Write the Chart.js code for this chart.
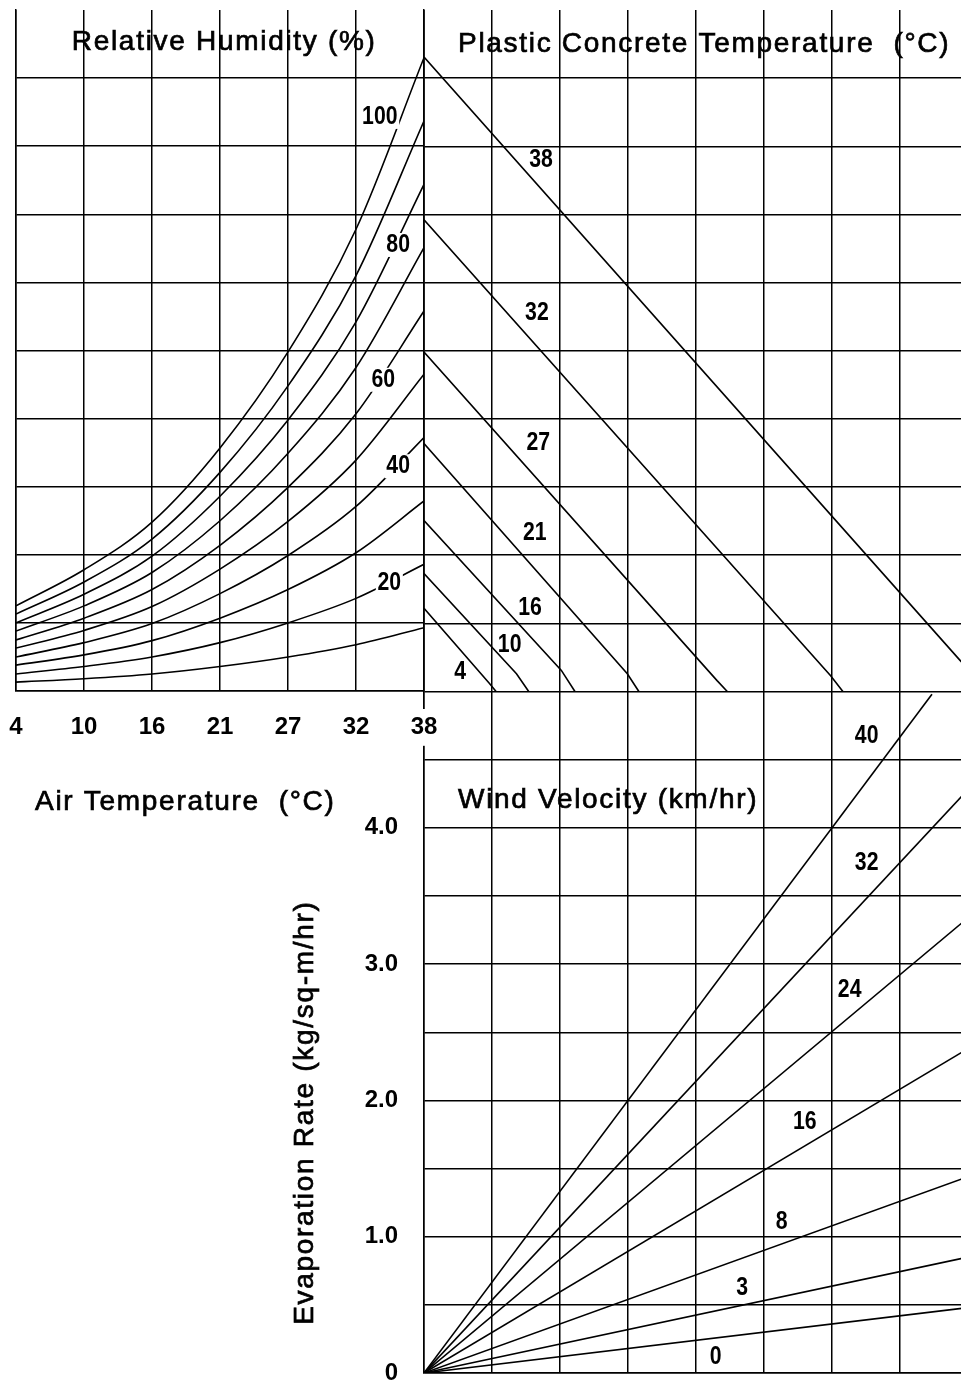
<!DOCTYPE html>
<html>
<head>
<meta charset="utf-8">
<title>Evaporation rate nomograph</title>
<script src="https://cdn.jsdelivr.net/npm/chart.js@4/dist/chart.umd.min.js"></script>
<style>
  html, body { margin: 0; padding: 0; background: #fff; overflow: hidden; }
  #wrap { position: relative; width: 961px; height: 1383px; overflow: hidden; background: #fff; }
  canvas { position: absolute; }
  #left { left: 0; top: 0; z-index: 2; }
  #right { left: 260px; top: -20px; z-index: 1; }
</style>
</head>
<body>
<div id="wrap">
  <canvas id="right" width="708" height="1420"></canvas>
  <canvas id="left" width="440" height="830"></canvas>
</div>
<script>
// air temperature ticks (deg C); the ticks are evenly spaced, so curve points use the tick index
var airTempLabels = ['4', '10', '16', '21', '27', '32', '38'];

// relative humidity curves: height in grid rows above the bottom line, read at each air temp tick
var rhLevels = [10, 20, 30, 40, 50, 60, 70, 80, 90, 100];
var rh10 = [0.13, 0.18, 0.25, 0.36, 0.50, 0.68, 0.93];
var rh20 = [0.25, 0.36, 0.50, 0.71, 1.00, 1.36, 1.86];
var rh30 = [0.38, 0.53, 0.74, 1.07, 1.49, 2.03, 2.79];
var rh40 = [0.50, 0.71, 0.99, 1.43, 1.99, 2.71, 3.72];
var rh50 = [0.63, 0.89, 1.24, 1.79, 2.49, 3.39, 4.65];
var rh60 = [0.75, 1.07, 1.49, 2.14, 2.99, 4.07, 5.58];
var rh70 = [0.88, 1.25, 1.74, 2.50, 3.49, 4.75, 6.51];
var rh80 = [1.00, 1.42, 1.98, 2.86, 3.98, 5.42, 7.44];
var rh90 = [1.13, 1.60, 2.23, 3.21, 4.48, 6.10, 8.37];
var rh100 = [1.25, 1.78, 2.48, 3.57, 4.98, 6.78, 9.30];
var rhCurves = [rh10, rh20, rh30, rh40, rh50, rh60, rh70, rh80, rh90, rh100];

// plastic concrete temperature lines: [column, grid rows]
var concreteTemps = ['4', '10', '16', '21', '27', '32', '38'];
var conc4 = [[0, 1.22], [0.96, 0.12], [1.06, 0]];
var conc10 = [[0, 1.73], [1.36, 0.26], [1.54, 0]];
var conc16 = [[0, 2.51], [2.02, 0.31], [2.22, 0]];
var conc21 = [[0, 3.64], [2.99, 0.26], [3.16, 0]];
var conc27 = [[0, 4.98], [4.31, 0.16], [4.46, 0]];
var conc32 = [[0, 6.92], [5.98, 0.23], [6.16, 0]];
var conc38 = [[0, 9.31], [7.88, 0.46], [8, 0.33]];
var concreteLines = [conc4, conc10, conc16, conc21, conc27, conc32, conc38];

// wind velocity lines: [column, evaporation rate]
var windSpeeds = ['0', '3', '8', '16', '24', '32', '40'];
var wind0 = [[0, 0], [8, 0.48]];
var wind3 = [[0, 0], [8, 0.85]];
var wind8 = [[0, 0], [8, 1.44]];
var wind16 = [[0, 0], [8, 2.38]];
var wind24 = [[0, 0], [8, 3.34]];
var wind32 = [[0, 0], [8, 4.28]];
var wind40 = [[0, 0], [7.47, 4.98]];
var windLines = [wind0, wind3, wind8, wind16, wind24, wind32, wind40];

// evaporation rate tick labels for 0..4
var evapTicks = ['0', '1.0', '2.0', '3.0', '4.0'];

var numFamily = '"Liberation Sans", Arial, sans-serif';
var numFont = {family: numFamily, size: 24, weight: 'bold'};
var numFontStr = 'bold 25px ' + numFamily;
var titleFontStr = '28px "Liberation Sans", Arial, sans-serif';
var clear = 'rgba(0,0,0,0)';

// draws free text at data positions of the chart's scales
var notesPlugin = {
  id: 'notes',
  afterDatasetsDraw: function (chart, args, opts) {
    var ctx = chart.ctx;
    (opts.items || []).forEach(function (n) {
      var px = chart.scales[n.xAxis || 'x'].getPixelForValue(n.x);
      var py = chart.scales[n.yAxis || 'y'].getPixelForValue(n.y);
      ctx.save();
      ctx.font = n.font;
      if ('letterSpacing' in ctx) ctx.letterSpacing = n.spacing || '0px';
      ctx.translate(px, py);
      if (n.rotate) ctx.rotate(n.rotate * Math.PI / 180);
      if (n.squeeze) ctx.scale(n.squeeze, 1);
      ctx.textAlign = n.align || 'center';
      ctx.textBaseline = 'middle';
      if (n.backdrop) {
        var w = ctx.measureText(n.text).width + 4, h = 24;
        ctx.fillStyle = '#fff';
        ctx.fillRect(-w / 2, -h / 2, w, h);
      }
      ctx.fillStyle = '#000';
      ctx.fillText(n.text, 0, 0);
      if (n.stroke) {
        ctx.strokeStyle = '#000';
        ctx.lineWidth = n.stroke;
        ctx.strokeText(n.text, 0, 0);
      }
      ctx.restore();
    });
  }
};

function title(text, x, y, extra) {
  var n = {text: text, x: x, y: y, font: titleFontStr, spacing: '1.7px', align: 'left', stroke: 0.7};
  for (var k in extra) n[k] = extra[k];
  return n;
}
function num(text, x, y, extra) {
  var n = {text: text, x: x, y: y, font: numFontStr, squeeze: 0.85};
  for (var k in extra) n[k] = extra[k];
  return n;
}

function lineSet(points, axis) {
  return {
    data: points.map(function (p) { return {x: p[0], y: p[1]}; }),
    yAxisID: axis,
    borderColor: '#000',
    borderWidth: 1.6,
    pointRadius: 0,
    tension: 0,
    fill: false
  };
}

// left panel: relative humidity vs air temperature
var leftChart = new Chart(document.getElementById('left'), {
  type: 'line',
  data: {
    datasets: rhCurves.map(function (vals, i) {
      return {
        label: rhLevels[i] + '%',
        data: vals.map(function (v, j) { return {x: j, y: v}; }),
        borderColor: '#000',
        borderWidth: 1.6,
        pointRadius: 0,
        cubicInterpolationMode: 'monotone',
        fill: false
      };
    })
  },
  options: {
    responsive: false,
    animation: false,
    devicePixelRatio: 1,
    layout: {padding: {top: 10, left: 0, right: 0, bottom: 0}},
    plugins: {
      legend: {display: false},
      tooltip: {enabled: false},
      notes: {
        items: [
          title('Relative Humidity (%)', 0.82, 9.52),
          title('Air Temperature  (\u00B0C)', 0.28, -1.63),
          num(String(rhLevels[9]), 5.35, 8.43, {backdrop: true}),
          num(String(rhLevels[7]), 5.62, 6.55, {backdrop: true}),
          num(String(rhLevels[5]), 5.40, 4.57, {backdrop: true}),
          num(String(rhLevels[3]), 5.62, 3.30, {backdrop: true}),
          num(String(rhLevels[1]), 5.49, 1.59, {backdrop: true})
        ]
      }
    },
    scales: {
      x: {
        type: 'linear', min: 0, max: 6, position: 'bottom',
        ticks: {
          stepSize: 1, autoSkip: false, maxRotation: 0, padding: 0,
          callback: function (v) { return airTempLabels[v]; },
          font: numFont, color: '#000',
          showLabelBackdrop: true, backdropColor: '#fff', backdropPadding: {x: 2, y: 4}
        },
        grid: {color: '#000', lineWidth: 1.5, drawTicks: true, tickLength: 22, tickColor: clear},
        border: {display: true, color: '#000', width: 1.5},
        afterFit: function (s) { s.height = 830 - 691; }
      },
      y: {
        type: 'linear', min: 0, max: 10, position: 'left',
        ticks: {stepSize: 1, display: false},
        grid: {
          color: function (c) { return c.tick && c.tick.value === 10 ? clear : '#000'; },
          lineWidth: 1.5, drawTicks: false
        },
        border: {display: true, color: '#000', width: 1.5},
        afterFit: function (s) { s.width = 16; }
      },
      yRight: {
        type: 'linear', min: 0, max: 10, position: 'right',
        ticks: {display: false}, grid: {display: false}, border: {display: false},
        afterFit: function (s) { s.width = 16; }
      }
    }
  },
  plugins: [notesPlugin]
});

function evapLabel(v) {
  if (Number.isInteger(v) && v < evapTicks.length) return evapTicks[v];
  return '';
}

// right column: concrete temperature (top) and wind velocity / evaporation rate (bottom)
var rightChart = new Chart(document.getElementById('right'), {
  type: 'line',
  data: {
    datasets: concreteLines.map(function (p) { return lineSet(p, 'yv'); })
      .concat(windLines.map(function (p) { return lineSet(p, 'y'); }))
  },
  options: {
    responsive: false,
    animation: false,
    devicePixelRatio: 1,
    layout: {padding: {top: 30, left: 0, right: 0, bottom: 27}},
    plugins: {
      legend: {display: false},
      tooltip: {enabled: false},
      notes: {
        items: [
          title('Plastic Concrete Temperature  (\u00B0C)', 0.5, 9.50, {yAxis: 'yv'}),
          title('Wind Velocity (km/hr)', 0.5, 4.20),
          title('Evaporation Rate (kg/sq-m/hr)', -1.75, 1.91, {align: 'center', rotate: -90}),
          num(concreteTemps[6], 1.72, 7.80, {yAxis: 'yv'}),
          num(concreteTemps[5], 1.66, 5.55, {yAxis: 'yv'}),
          num(concreteTemps[4], 1.68, 3.64, {yAxis: 'yv'}),
          num(concreteTemps[3], 1.63, 2.33, {yAxis: 'yv'}),
          num(concreteTemps[2], 1.56, 1.22, {yAxis: 'yv'}),
          num(concreteTemps[1], 1.26, 0.68, {yAxis: 'yv'}),
          num(concreteTemps[0], 0.53, 0.28, {yAxis: 'yv'}),
          num(windSpeeds[6], 6.51, 4.67),
          num(windSpeeds[5], 6.51, 3.74),
          num(windSpeeds[4], 6.26, 2.81),
          num(windSpeeds[3], 5.60, 1.84),
          num(windSpeeds[2], 5.26, 1.11),
          num(windSpeeds[1], 4.68, 0.62),
          num(windSpeeds[0], 4.29, 0.12)
        ]
      }
    },
    scales: {
      x: {
        type: 'linear', min: 0, max: 8, position: 'bottom',
        ticks: {stepSize: 1, display: false},
        grid: {color: '#000', lineWidth: 1.5, drawTicks: false},
        border: {display: true, color: '#000', width: 1.5},
        afterFit: function (s) { s.height = 0; }
      },
      y: {
        type: 'linear', min: 0, max: 10, position: 'left',
        ticks: {stepSize: 0.5, autoSkip: false, padding: 0, callback: evapLabel, font: numFont, color: '#000'},
        grid: {
          color: function (c) { return c.tick && c.tick.value === 10 ? clear : '#000'; },
          lineWidth: 1.5, drawTicks: true, tickLength: 26, tickColor: clear
        },
        border: {display: true, color: '#000', width: 1.5},
        afterFit: function (s) { s.width = 164; }
      },
      yv: {type: 'linear', min: -10, max: 10, display: false}
    }
  },
  plugins: [notesPlugin]
});
</script>
</body>
</html>
